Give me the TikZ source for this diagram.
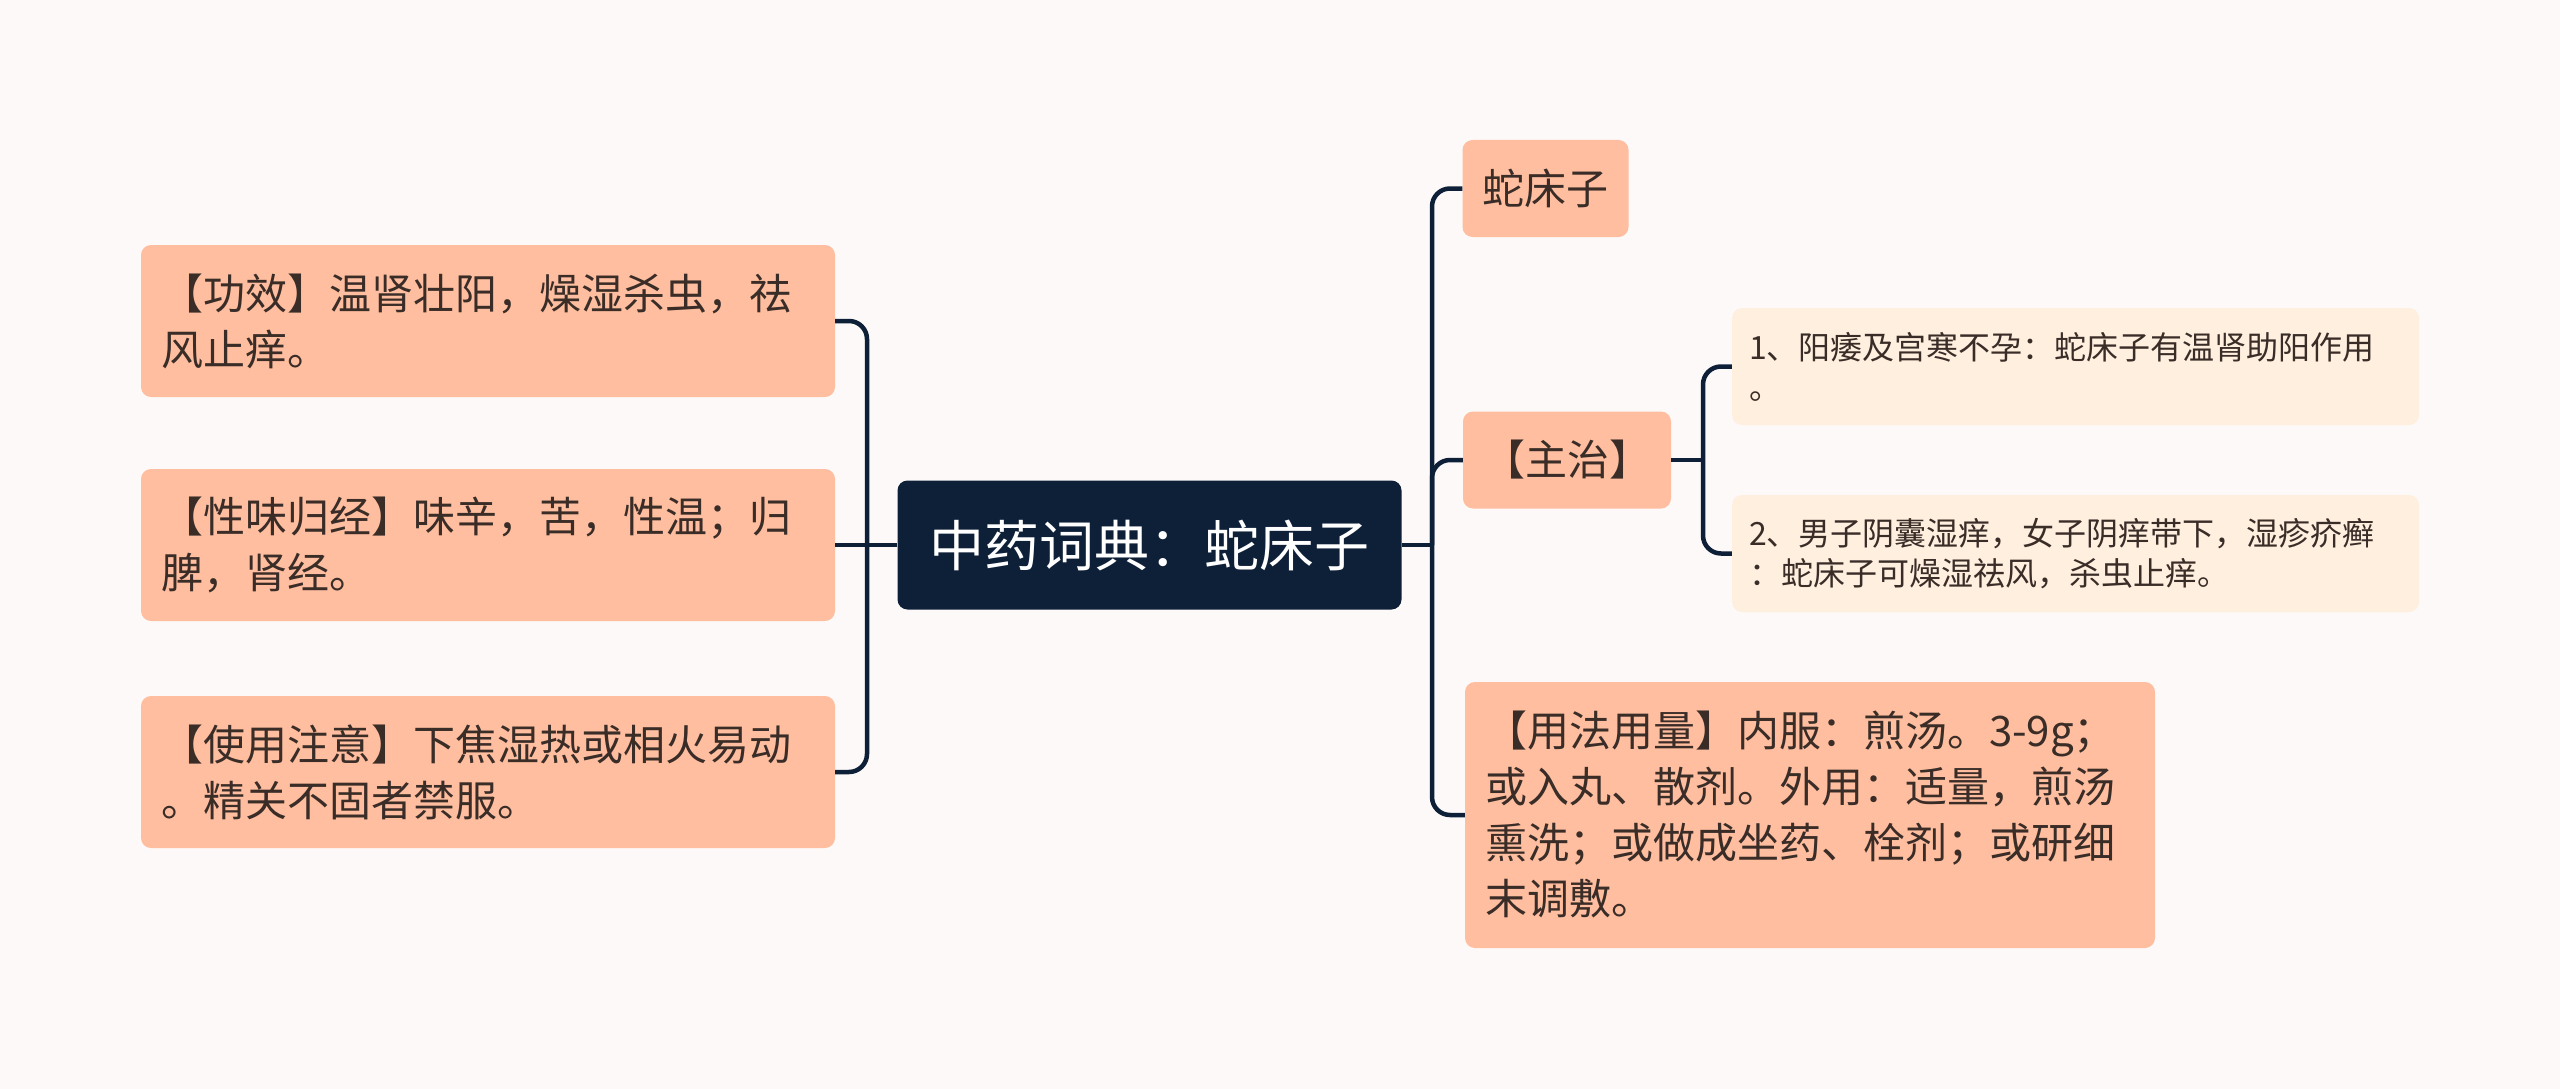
\documentclass[tikz,border=0pt]{standalone}
\usepackage{fontspec}
\newfontfamily\cjk{Noto Sans CJK SC}
\setlength{\parindent}{0pt}

\definecolor{paper}{RGB}{253,249,248}
\definecolor{navy}{RGB}{14,31,56}
\definecolor{peach}{RGB}{255,190,159}
\definecolor{cream}{RGB}{254,239,223}
\definecolor{ink}{RGB}{58,45,40}

\tikzset{
  root/.style={fill=navy, text=white, rounded corners=10pt, inner sep=0pt,
    font=\cjk\fontsize{55}{66}\selectfont, minimum width=504pt, minimum height=129pt},
  leaf/.style={fill=peach, text=ink, rounded corners=10pt, align=left,
    inner xsep=20pt, inner ysep=0pt, minimum height=97pt,
    font=\cjk\fontsize{42}{56}\selectfont},
  note/.style={fill=cream, text=ink, rounded corners=10pt, align=left,
    inner xsep=17pt, inner ysep=0pt, text width=653pt, minimum height=117pt,
    font=\cjk\fontsize{32}{40}\selectfont},
  link/.style={draw=navy, line width=4.5pt, rounded corners=18pt},
}

\begin{document}
\begin{tikzpicture}[x=1pt,y=-1pt]
\fill[paper] (0,0) rectangle (2560,1089);
\useasboundingbox (0,0) rectangle (2560,1089);

% centre
\node[root] (zhong) at (1149.5,545) {中药词典：蛇床子};

% left branches
\node[leaf, text width=654pt, minimum height=152pt] (gx) at (488,321)
  {【功效】温肾壮阳，燥湿杀虫，祛\\风止痒。};
\node[leaf, text width=654pt, minimum height=152pt] (xw) at (488,545)
  {【性味归经】味辛，苦，性温；归\\脾，肾经。};
\node[leaf, text width=654pt, minimum height=152pt] (zy) at (488,772)
  {【使用注意】下焦湿热或相火易动\\。精关不固者禁服。};

% right branches
\node[leaf] (snake) at (1545.5,188.5) {蛇床子};
\node[leaf] (zhu) at (1567,460) {【主治】};
\node[leaf, text width=650pt, minimum height=266pt] (usage) at (1810,815)
  {【用法用量】内服：煎汤。3-9g；\\或入丸、散剂。外用：适量，煎汤\\熏洗；或做成坐药、栓剂；或研细\\末调敷。};

% indications
\node[note] (s1) at (2075.5,366.5) {1、阳痿及宫寒不孕：蛇床子有温肾助阳作用\\。};
\node[note] (s2) at (2075.5,553.5) {2、男子阴囊湿痒，女子阴痒带下，湿疹疥癣\\：蛇床子可燥湿祛风，杀虫止痒。};

% connectors
\coordinate (lbus) at (867,545);
\coordinate (rbus) at (1432,545);
\coordinate (sbus) at (1703,460);

\draw[link] (gx.east) -| (lbus) |- (zy.east);
\draw[link] (zhong.west) -- (xw.east);

\draw[link] (snake.west) -| (rbus) |- (usage.west);
\draw[link] (zhong.east) -- (rbus);
\draw[link] (rbus) |- (zhu.west);

\draw[link] (s1.west) -| (sbus) |- (s2.west);
\draw[link] (zhu.east) -- (sbus);

\end{tikzpicture}
\end{document}
